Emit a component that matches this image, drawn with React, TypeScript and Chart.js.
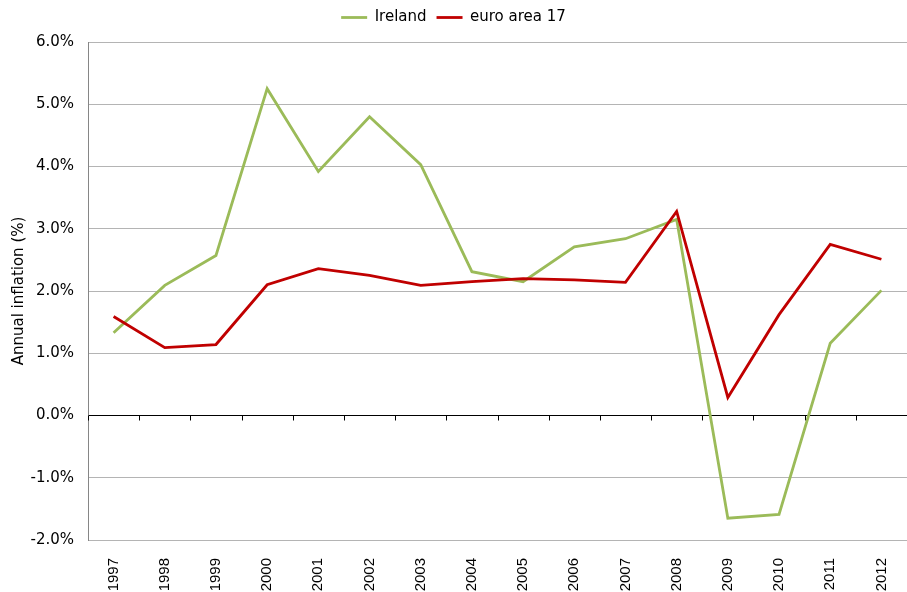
import React, { useEffect, useRef } from "react";
import { Chart, registerables } from "chart.js";

Chart.register(...registerables);

const years = ["1997", "1998", "1999", "2000", "2001", "2002", "2003", "2004", "2005", "2006", "2007", "2008", "2009", "2010", "2011", "2012"];
const ireland = [1.33, 2.09, 2.57, 5.25, 3.92, 4.8, 4.03, 2.31, 2.15, 2.71, 2.84, 3.15, -1.65, -1.59, 1.16, 2.01];
const euroArea = [1.59, 1.09, 1.14, 2.1, 2.36, 2.25, 2.09, 2.15, 2.2, 2.18, 2.14, 3.28, 0.29, 1.62, 2.75, 2.51];
const yMin = -2;
const yMax = 6;
const yStep = 1;

const zeroTicks = {
  id: "zeroTicks",
  beforeDatasetsDraw(chart: any) {
    const xs = chart.scales.x;
    const ys = chart.scales.y;
    const ctx = chart.ctx;
    const y0 = ys.getPixelForValue(0);
    const n = xs.ticks.length;
    const step = (xs.right - xs.left) / n;
    ctx.save();
    ctx.strokeStyle = "#000";
    ctx.lineWidth = 1;
    ctx.beginPath();
    for (let i = 0; i <= n; i++) {
      const px = Math.round(xs.left + i * step) + 0.5;
      ctx.moveTo(px, y0);
      ctx.lineTo(px, y0 + 5);
    }
    ctx.stroke();
    ctx.restore();
  },
};

const legendMargin = {
  id: "legendMargin",
  beforeInit(chart: any) {
    const legend = chart.legend;
    if (!legend) return;
    const origFit = legend.fit;
    legend.fit = function () {
      origFit.call(this);
      this.height += 7;
    };
  },
};

export default function App() {
  const ref = useRef<HTMLCanvasElement>(null);
  useEffect(() => {
    document.body.style.margin = "0";
    const chart = new Chart(ref.current!, {
      type: "line",
      data: {
        labels: years,
        datasets: [
          {
            label: "Ireland",
            data: ireland,
            borderColor: "#9bbb59",
            backgroundColor: "#9bbb59",
            borderWidth: 2.8,
            pointRadius: 0,
            tension: 0,
            order: 1,
          },
          {
            label: "euro area 17",
            data: euroArea,
            borderColor: "#c00000",
            backgroundColor: "#c00000",
            borderWidth: 2.8,
            pointRadius: 0,
            tension: 0,
            order: 0,
          },
        ],
      },
      plugins: [zeroTicks, legendMargin],
      options: {
        responsive: false,
        animation: false,
        layout: { padding: { left: 0, right: 0, top: 0, bottom: 0 } },
        plugins: {
          tooltip: { enabled: false },
          legend: {
            position: "top",
            labels: {
              usePointStyle: true,
              pointStyle: "line",
              pointStyleWidth: 26,
              boxHeight: 10,
              color: "#000",
              padding: 10,
              font: { family: "DejaVu Sans", size: 15 },
              sort: (a: any, b: any) => a.datasetIndex - b.datasetIndex,
            },
          },
        },
        scales: {
          x: {
            offset: true,
            grid: { display: false },
            border: { display: false },
            ticks: {
              minRotation: 90,
              maxRotation: 90,
              color: "#000",
              padding: 10,
              font: { family: "Liberation Sans", size: 15 },
            },
            afterFit(scale: any) {
              scale.height = 52;
              scale.paddingRight = 0;
              scale.paddingLeft = 0;
            },
          },
          y: {
            min: yMin,
            max: yMax,
            ticks: {
              stepSize: yStep,
              color: "#000",
              padding: 14,
              font: { family: "DejaVu Sans", size: 15 },
              callback: (v: any) => Number(v).toFixed(1) + "%",
            },
            grid: {
              drawTicks: false,
              color: (c: any) => (c.tick && c.tick.value === 0 ? "#000" : "#b4b4b4"),
              lineWidth: 1,
            },
            border: { color: "#868686" },
            title: {
              display: true,
              text: "Annual inflation (%)",
              color: "#000",
              font: { family: "DejaVu Sans", size: 15 },
              padding: { top: 10, bottom: 0 },
            },
            afterFit(scale: any) {
              scale.width = 88;
            },
          },
        },
      },
    });
    return () => chart.destroy();
  }, []);
  return <canvas ref={ref} width={907} height={592} style={{ display: "block" }} />;
}
